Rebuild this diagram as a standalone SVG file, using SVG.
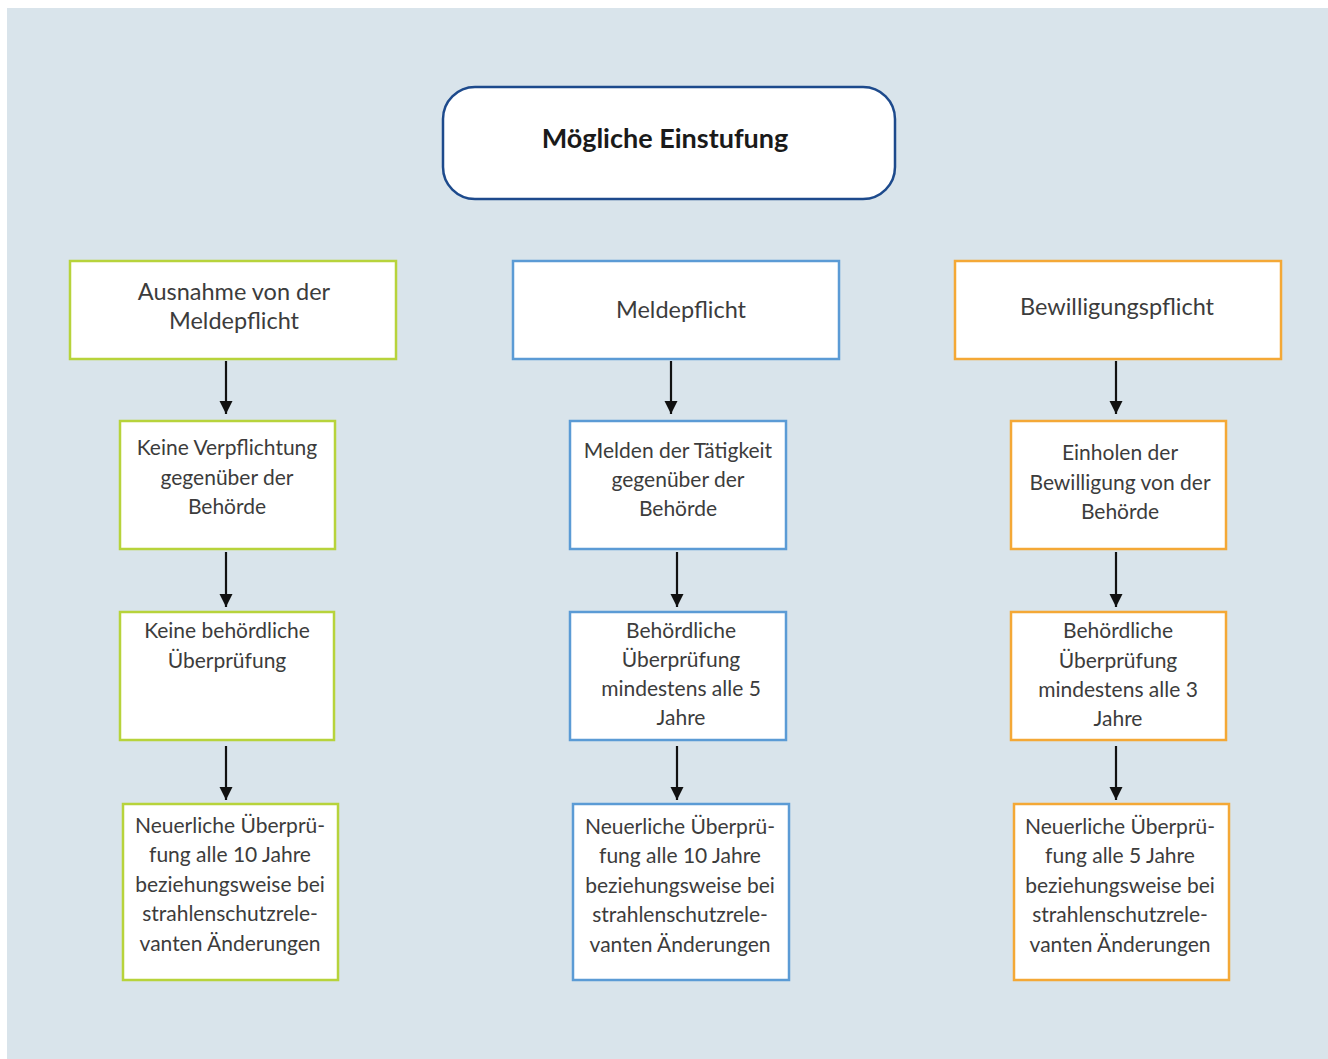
<svg xmlns="http://www.w3.org/2000/svg" width="1328" height="1059" viewBox="0 0 1328 1059">
<style>
.t{font-family:Lato,"Noto Sans",sans-serif;font-size:21px;fill:#3c3c3c;text-anchor:middle}
.h{font-size:23.5px}
.title{font-family:Lato,"Noto Sans",sans-serif;font-size:27px;font-weight:bold;fill:#1a1a1a;text-anchor:middle}
.g{fill:#fff;stroke:#b7d33b;stroke-width:2.5}
.b{fill:#fff;stroke:#5b9bd5;stroke-width:2.5}
.o{fill:#fff;stroke:#f4a836;stroke-width:2.5}
.c{stroke:#111;stroke-width:2.2;fill:none}
</style>
<defs>
<marker id="ah" viewBox="0 0 10 10" refX="10" refY="5" markerWidth="6" markerHeight="6" orient="auto" markerUnits="strokeWidth">
<path d="M0,0 L10,5 L0,10 z" fill="#111"/>
</marker>
</defs>
<rect x="0" y="0" width="1328" height="1059" fill="#fff"/>
<rect x="7" y="8" width="1321" height="1051" fill="#d9e4eb"/>

<g id="top">
<rect x="443" y="87" width="452" height="112" rx="32" fill="#fff" stroke="#1d4a8c" stroke-width="2.5"/>
<text class="title" x="665" y="148">Mögliche Einstufung</text>
</g>

<g id="g1"><rect class="g" x="70" y="261" width="326" height="98"/>
<text class="t h" x="234" y="300">Ausnahme von der</text><text class="t h" x="234" y="329">Meldepflicht</text></g>
<g id="g2"><rect class="g" x="120" y="421" width="215" height="128"/>
<text class="t" x="227" y="455">Keine Verpflichtung</text><text class="t" x="227" y="485">gegenüber der</text><text class="t" x="227" y="514">Behörde</text></g>
<g id="g3"><rect class="g" x="120" y="612" width="214" height="128"/>
<text class="t" x="227" y="638">Keine behördliche</text><text class="t" x="227" y="668">Überprüfung</text></g>
<g id="g4"><rect class="g" x="123" y="804" width="215" height="176"/>
<text class="t" x="230" y="833">Neuerliche Überprü-</text><text class="t" x="230" y="862">fung alle 10 Jahre</text><text class="t" x="230" y="892">beziehungsweise bei</text><text class="t" x="230" y="921">strahlenschutzrele-</text><text class="t" x="230" y="951">vanten Änderungen</text></g>

<g id="b1"><rect class="b" x="513" y="261" width="326" height="98"/>
<text class="t h" x="681" y="318">Meldepflicht</text></g>
<g id="b2"><rect class="b" x="570" y="421" width="216" height="128"/>
<text class="t" x="678" y="458">Melden der Tätigkeit</text><text class="t" x="678" y="487">gegenüber der</text><text class="t" x="678" y="516">Behörde</text></g>
<g id="b3"><rect class="b" x="570" y="612" width="216" height="128"/>
<text class="t" x="681" y="638">Behördliche</text><text class="t" x="681" y="667">Überprüfung</text><text class="t" x="681" y="696">mindestens alle 5</text><text class="t" x="681" y="725">Jahre</text></g>
<g id="b4"><rect class="b" x="573" y="804" width="216" height="176"/>
<text class="t" x="680" y="834">Neuerliche Überprü-</text><text class="t" x="680" y="863">fung alle 10 Jahre</text><text class="t" x="680" y="893">beziehungsweise bei</text><text class="t" x="680" y="922">strahlenschutzrele-</text><text class="t" x="680" y="952">vanten Änderungen</text></g>

<g id="o1"><rect class="o" x="955" y="261" width="326" height="98"/>
<text class="t h" x="1117" y="315">Bewilligungspflicht</text></g>
<g id="o2"><rect class="o" x="1011" y="421" width="215" height="128"/>
<text class="t" x="1120" y="460">Einholen der</text><text class="t" x="1120" y="490">Bewilligung von der</text><text class="t" x="1120" y="519">Behörde</text></g>
<g id="o3"><rect class="o" x="1011" y="612" width="215" height="128"/>
<text class="t" x="1118" y="638">Behördliche</text><text class="t" x="1118" y="668">Überprüfung</text><text class="t" x="1118" y="697">mindestens alle 3</text><text class="t" x="1118" y="726">Jahre</text></g>
<g id="o4"><rect class="o" x="1014" y="804" width="215" height="176"/>
<text class="t" x="1120" y="834">Neuerliche Überprü-</text><text class="t" x="1120" y="863">fung alle 5 Jahre</text><text class="t" x="1120" y="893">beziehungsweise bei</text><text class="t" x="1120" y="922">strahlenschutzrele-</text><text class="t" x="1120" y="952">vanten Änderungen</text></g>

<g id="connectors">
<line class="c" x1="226" y1="361" x2="226" y2="414" marker-end="url(#ah)"/>
<line class="c" x1="226" y1="552" x2="226" y2="607" marker-end="url(#ah)"/>
<line class="c" x1="226" y1="746" x2="226" y2="800" marker-end="url(#ah)"/>
<line class="c" x1="671" y1="361" x2="671" y2="414" marker-end="url(#ah)"/>
<line class="c" x1="677" y1="552" x2="677" y2="607" marker-end="url(#ah)"/>
<line class="c" x1="677" y1="746" x2="677" y2="800" marker-end="url(#ah)"/>
<line class="c" x1="1116" y1="361" x2="1116" y2="414" marker-end="url(#ah)"/>
<line class="c" x1="1116" y1="552" x2="1116" y2="607" marker-end="url(#ah)"/>
<line class="c" x1="1116" y1="746" x2="1116" y2="800" marker-end="url(#ah)"/>
</g>
</svg>
